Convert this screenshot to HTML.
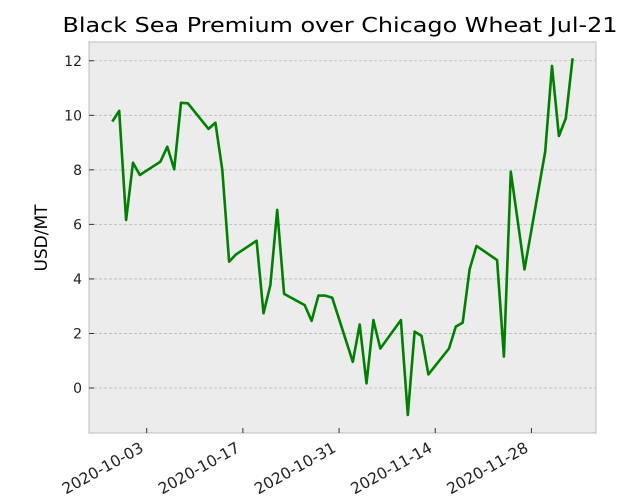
<!DOCTYPE html>
<html><head><meta charset="utf-8"><style>
html,body{margin:0;padding:0;background:#fff;}
svg{display:block;font-family:"DejaVu Sans","Liberation Sans",sans-serif;}
</style></head><body>
<svg id="chart" width="644" height="500" xmlns="http://www.w3.org/2000/svg">
<text x="340" y="32" font-size="20" text-anchor="middle" textLength="555" lengthAdjust="spacingAndGlyphs" fill="#000">Black Sea Premium over Chicago Wheat Jul-21</text>
<rect x="89" y="42" width="507" height="391" fill="#ececec" stroke="#bcbcbc" stroke-width="1"/>
<g id="grid"></g><g id="yticks"></g><g id="xticks"></g>
<text transform="translate(47,238) rotate(-90)" font-size="17" text-anchor="middle" fill="#000">USD/MT</text>
<g id="series"></g>
</svg>
<script>
const dates=["2020-09-28","2020-09-29","2020-09-30","2020-10-01","2020-10-02","2020-10-05","2020-10-06","2020-10-07","2020-10-08","2020-10-09","2020-10-12","2020-10-13","2020-10-14","2020-10-15","2020-10-16","2020-10-19","2020-10-20","2020-10-21","2020-10-22","2020-10-23","2020-10-26","2020-10-27","2020-10-28","2020-10-29","2020-10-30","2020-11-02","2020-11-03","2020-11-04","2020-11-05","2020-11-06","2020-11-09","2020-11-10","2020-11-11","2020-11-12","2020-11-13","2020-11-16","2020-11-17","2020-11-18","2020-11-19","2020-11-20","2020-11-23","2020-11-24","2020-11-25","2020-11-27","2020-11-30","2020-12-01","2020-12-02","2020-12-03","2020-12-04"];
const values=[9.77,10.16,6.16,8.26,7.81,8.3,8.85,8.02,10.46,10.44,9.5,9.73,8.0,4.63,4.9,5.4,2.74,3.78,6.53,3.45,3.04,2.46,3.39,3.39,3.31,0.96,2.33,0.17,2.49,1.45,2.49,-0.99,2.07,1.91,0.5,1.45,2.25,2.4,4.35,5.21,4.69,1.15,7.93,4.35,8.67,11.81,9.24,9.89,12.09];
const yTicks=[0,2,4,6,8,10,12];
const xTickLabels=["2020-10-03","2020-10-17","2020-10-31","2020-11-14","2020-11-28"];
const NS="http://www.w3.org/2000/svg";
const t0=Date.parse("2020-10-03");
function xScale(d){return 146.7+(Date.parse(d)-t0)/86400000*6.87;}
function yScale(v){return 388-v*27.27;}
function mk(tag,attrs,parent){const e=document.createElementNS(NS,tag);for(const k in attrs)e.setAttribute(k,attrs[k]);document.getElementById(parent).appendChild(e);return e;}
yTicks.forEach(v=>{
  const y=yScale(v);
  const g=mk('line',{x1:89,x2:596,y1:y,y2:y,stroke:'#b8b8b8','stroke-dasharray':'3,2','stroke-width':0.8},'grid');
  
  
  const tk=mk('line',{x1:89,x2:94,y1:y,y2:y,stroke:'#333','stroke-width':1},'yticks');
  
  
  const t=mk('text',{x:82,y:y+5,'font-size':14,'text-anchor':'end',fill:'#222'},'yticks');
  t.textContent=String(v);
  
  
});
xTickLabels.forEach(d=>{
  const x=xScale(d);
  const tk=mk('line',{x1:x,x2:x,y1:428,y2:433,stroke:'#333','stroke-width':1},'xticks');
  
  
  const t=mk('text',{transform:`translate(${x-2},${451}) rotate(-29)`,'font-size':15.5,'text-anchor':'end',fill:'#222'},'xticks');
  t.textContent=d;
  
  
});
const pts=dates.map((d,i)=>xScale(d).toFixed(1)+','+yScale(values[i]).toFixed(1)).join(' ');
const line=mk('polyline',{points:pts,fill:'none',stroke:'#008000','stroke-width':2.6,'stroke-linejoin':'round'},'series');


</script>
</body></html>
